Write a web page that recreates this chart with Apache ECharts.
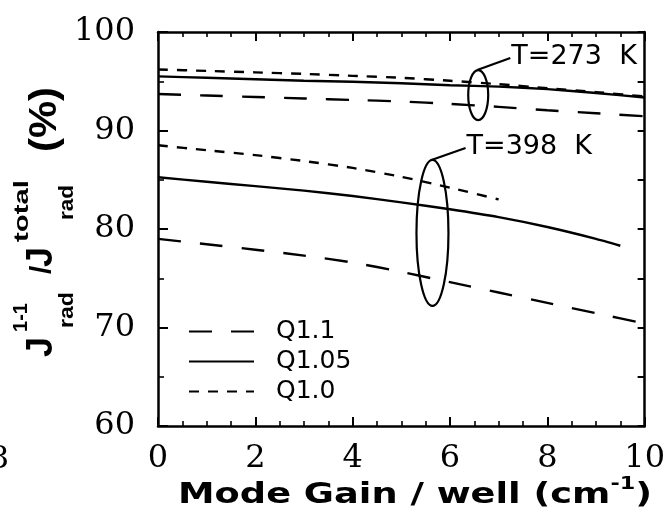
<!DOCTYPE html>
<html>
<head>
<meta charset="utf-8">
<script src="https://cdn.jsdelivr.net/npm/echarts@6/dist/echarts.min.js"></script>
<style>
  html, body { margin: 0; padding: 0; background: #fff; }
  #chart { width: 668px; height: 520px; }
</style>
</head>
<body>
<div id="chart"></div>
<script>
// Mode gain per well (cm^-1)
const gainFull = [0, 1, 2, 3, 4, 5, 6, 7, 8, 9, 10];
const gainQ10Hot = [0, 1, 2, 3, 4, 5, 6, 7];
const gainQ105Hot = [0, 1, 2, 3, 4, 5, 6, 7, 8, 9, 9.5];

// Radiative current fraction (%) at T = 273 K
const q10Cold  = [96.2, 96.05, 95.9, 95.75, 95.55, 95.35, 95.05, 94.7, 94.3, 93.9, 93.45];
const q105Cold = [95.5, 95.35, 95.2, 95.05, 94.95, 94.8, 94.6, 94.45, 94.2, 93.8, 93.35];
const q11Cold  = [93.7, 93.55, 93.4, 93.25, 93.1, 92.95, 92.7, 92.4, 92.05, 91.75, 91.45];

// Radiative current fraction (%) at T = 398 K
const q10Hot  = [88.5, 88.0, 87.5, 86.9, 86.2, 85.3, 84.2, 83.0];
const q105Hot = [85.25, 84.8, 84.35, 83.9, 83.35, 82.7, 82.0, 81.2, 80.2, 79.0, 78.3];
const q11Hot  = [79.0, 78.45, 77.9, 77.3, 76.6, 75.65, 74.6, 73.55, 72.5, 71.45, 70.4];

const legendNames = ['Q1.1', 'Q1.05', 'Q1.0'];
const xTicks = { min: 0, max: 10, step: 2 };
const yTicks = { min: 60, max: 100, step: 10 };

const LONG_DASH = [23, 19];
const SHORT_DASH = [10, 9];

function makeSeries(name, xs, ys, dash) {
  return {
    name: name,
    type: 'line',
    data: xs.map((x, i) => [x, ys[i]]),
    symbol: 'circle',
    showSymbol: false,
    smooth: 0.2,
    silent: true,
    lineStyle: { color: '#000', width: 2.4, type: dash },
    itemStyle: { color: '#000' },
    emphasis: { disabled: true },
    z: 3
  };
}

const serif = 'DejaVu Serif';
const sans = 'Liberation Sans';

const chart = echarts.init(document.getElementById('chart'), null, { renderer: 'canvas' });

const option = {
  animation: false,
  backgroundColor: '#fff',
  grid: { left: 158, right: 21, top: 32, bottom: 94, containLabel: false },
  legend: {
    data: legendNames,
    orient: 'vertical',
    left: 183,
    top: 314,
    itemWidth: 65,
    itemHeight: 12,
    itemGap: 5,
    selectedMode: false,
    textStyle: { fontFamily: 'DejaVu Sans', fontSize: 25, color: '#000', padding: [0, 0, 0, 17] },
    itemStyle: { color: 'rgba(0,0,0,0)', borderWidth: 0, opacity: 0 }
  },
  xAxis: [
    {
      type: 'value', position: 'bottom',
      min: xTicks.min, max: xTicks.max, interval: xTicks.step,
      axisLine: { show: true, onZero: false, lineStyle: { color: '#000', width: 2.5 } },
      axisTick: { show: true, inside: true, length: 9, lineStyle: { color: '#000', width: 2 } },
      minorTick: { show: true, splitNumber: 4, length: 5, lineStyle: { color: '#000', width: 1.6 } },
      splitLine: { show: false },
      axisLabel: { fontFamily: serif, fontSize: 32, color: '#000', margin: 17 }
    },
    {
      type: 'value', position: 'top',
      min: xTicks.min, max: xTicks.max, interval: xTicks.step,
      axisLine: { show: true, onZero: false, lineStyle: { color: '#000', width: 2.5 } },
      axisTick: { show: true, inside: true, length: 9, lineStyle: { color: '#000', width: 2 } },
      minorTick: { show: true, splitNumber: 4, length: 5, lineStyle: { color: '#000', width: 1.6 } },
      splitLine: { show: false },
      axisLabel: { show: false }
    }
  ],
  yAxis: [
    {
      type: 'value', position: 'left',
      min: yTicks.min, max: yTicks.max, interval: yTicks.step,
      axisLine: { show: true, onZero: false, lineStyle: { color: '#000', width: 2.5 } },
      axisTick: { show: true, inside: true, length: 10, lineStyle: { color: '#000', width: 2 } },
      minorTick: { show: true, splitNumber: 2, length: 6, lineStyle: { color: '#000', width: 1.6 } },
      splitLine: { show: false },
      axisLabel: { fontFamily: serif, fontSize: 32, color: '#000', margin: 23, padding: [0, 0, 5, 0] }
    },
    {
      type: 'value', position: 'right',
      min: yTicks.min, max: yTicks.max, interval: 5,
      axisLine: { show: true, onZero: false, lineStyle: { color: '#000', width: 2.5 } },
      axisTick: { show: true, inside: true, length: 7, lineStyle: { color: '#000', width: 2 } },
      splitLine: { show: false },
      axisLabel: { show: false }
    }
  ],
  series: [
    makeSeries('Q1.1', gainFull, q11Cold, LONG_DASH),
    makeSeries('Q1.05', gainFull, q105Cold, 'solid'),
    makeSeries('Q1.0', gainFull, q10Cold, SHORT_DASH),
    makeSeries('Q1.1', gainFull, q11Hot, LONG_DASH),
    makeSeries('Q1.05', gainQ105Hot, q105Hot, 'solid'),
    makeSeries('Q1.0', gainQ10Hot, q10Hot, SHORT_DASH)
  ]
};

chart.setOption(option);

// ---- text helpers ----
const measureCtx = document.createElement('canvas').getContext('2d');
function textWidth(str, size, weight, family) {
  measureCtx.font = (weight || 'normal') + ' ' + size + 'px "' + family + '"';
  return measureCtx.measureText(str).width;
}

function label(text, x, y, size, weight, family, extra) {
  return Object.assign({
    type: 'text', x: x, y: y, silent: true,
    style: {
      text: text, fill: '#000', font: (weight || 'normal') + ' ' + size + 'px "' + family + '"',
      align: 'left', verticalAlign: 'middle'
    }
  }, extra || {});
}

// ---- x axis title with superscript ----
const xtMain = 'Mode Gain / well (cm';
const xtSup = '-1';
const xtEnd = ')';
const w1 = textWidth(xtMain, 28, 'bold', 'DejaVu Sans');
const w2 = textWidth(xtSup, 17, 'bold', 'DejaVu Sans');
const w3 = textWidth(xtEnd, 28, 'bold', 'DejaVu Sans');
const xTitleLeft = 178, xTitleRight = 652;
const xScale = (xTitleRight - xTitleLeft) / (w1 + w2 + w3);
const xTitle = {
  type: 'group', x: xTitleLeft, y: 496, scaleX: xScale, silent: true,
  children: [
    label(xtMain, 0, 0, 28, 'bold', 'DejaVu Sans'),
    label(xtSup, w1, -11, 17, 'bold', 'DejaVu Sans'),
    label(xtEnd, w1 + w2, 0, 28, 'bold', 'DejaVu Sans')
  ]
};

// ---- rotated y axis title: J^{1-1}_{rad} / J^{total}_{rad} (%) ----
// local u runs upward from the group origin, local v runs rightward
function vPiece(text, u, v, size, targetLen) {
  const w = textWidth(text, size, 'bold', sans);
  const s = targetLen ? targetLen / w : 1;
  return label(text, u, v, size, 'bold', sans, { scaleX: s });
}
const yTitle = {
  type: 'group', x: 0, y: 360, rotation: Math.PI / 2, silent: true,
  children: [
    vPiece('J', 3, 42.5, 36),
    vPiece('1-1', 28, 21.5, 21, 29),
    vPiece('rad', 32, 67, 21, 36),
    vPiece('/', 86, 42.5, 30),
    vPiece('J', 93, 42.5, 36),
    vPiece('total', 118, 22, 21, 62),
    vPiece('rad', 140, 67, 21, 35),
    vPiece('(%)', 208, 46, 38, 65)
  ]
};

// ---- temperature annotations, anchored in data space ----
const annotations = [
  { text: 'T=273  K', center: [6.58, 93.6], rx: 10, ry: 25, tip: [7.24, 97.36] },
  { text: 'T=398  K', center: [5.64, 79.6], rx: 16, ry: 73, tip: [6.32, 88.22] }
];

const annoGraphics = [];
annotations.forEach(a => {
  const c = chart.convertToPixel({ gridIndex: 0 }, a.center);
  const t = chart.convertToPixel({ gridIndex: 0 }, a.tip);
  annoGraphics.push({
    type: 'ellipse', silent: true, z: 10,
    shape: { cx: c[0], cy: c[1], rx: a.rx, ry: a.ry },
    style: { fill: 'none', stroke: '#000', lineWidth: 2.2 }
  });
  annoGraphics.push({
    type: 'line', silent: true, z: 10,
    shape: { x1: c[0] - 1, y1: c[1] - a.ry, x2: t[0], y2: t[1] },
    style: { stroke: '#000', lineWidth: 2.2 }
  });
  annoGraphics.push(label(a.text, t[0] + 1, t[1] - 1, 27, 'normal', 'DejaVu Sans', { z: 10 }));
});

// tick label of the neighbouring panel, cut by the left edge
const edgeLabel = {
  type: 'text', x: -1, y: 460, silent: true,
  style: { text: '8', fill: '#000', font: 'normal 32px "' + serif + '"', align: 'center', verticalAlign: 'middle' }
};

chart.setOption({ graphic: [xTitle, yTitle, edgeLabel].concat(annoGraphics) });
</script>
</body>
</html>
